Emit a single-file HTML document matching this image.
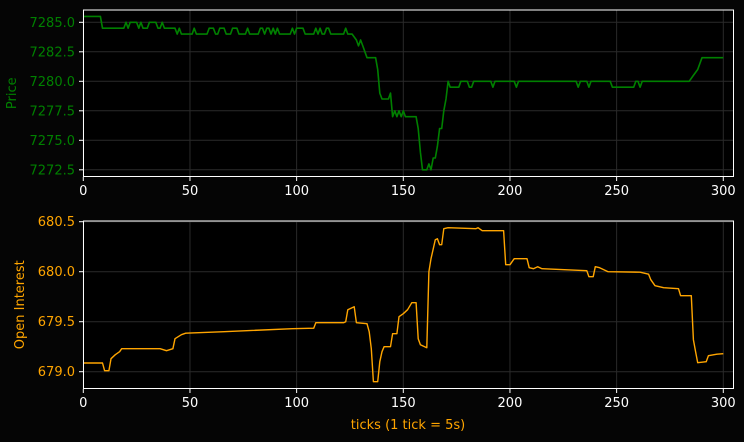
<!DOCTYPE html>
<html><head><meta charset="utf-8"><style>
html,body{margin:0;padding:0;background:#050505;}
svg{display:block;font-family:"DejaVu Sans","Liberation Sans",sans-serif;}
</style></head><body>
<svg id="chart" width="744" height="442" viewBox="0 0 744 442">
<rect x="0" y="0" width="744" height="442" fill="#050505"/>
<g id="top"></g>
<g id="bot"></g>
</svg>
<script>
const xTicks = [0,50,100,150,200,250,300];
const priceTicks = [7272.5,7275.0,7277.5,7280.0,7282.5,7285.0];
const oiTicks = [679.0,679.5,680.0,680.5];
const priceT = [
 0,8,9,19,20,21,22,25,26,27,28,30,31,34,35,36,37,38,43,44,45,46,
 51,52,53,
 58,59,61,62,
 63,64,66,67,
 69,70,72,73,
 76,77,78,
 82,83,84,85,
 86,87,88,89,90,91,92,
 97,98,99,100,103,104,
 108,109,110,111,112,
 113,114,115,116,
 122,123,124,
 126,128,129,130,131,133,137,138,139,140,143,144,145,
 146,147,148,149,150,151,152,156,157,158,159,161,162,163,164,165,166,167,168,169,170,171,172,176,177,180,181,182,183,191,192,193,
 202,203,204,231,232,233,236,237,238,247,248,258,259,260,261,262,284,286,288,290,300];
const priceV = [
 7285.5,7285.5,7284.5,7284.5,7285,7284.5,7285,7285,7284.5,7285,7284.5,7284.5,7285,7285,7284.5,7284.5,7285,7284.5,7284.5,7284,7284.5,7284,
 7284,7284.5,7284,
 7284,7284.5,7284.5,7284,
 7284,7284.5,7284.5,7284,
 7284,7284.5,7284.5,7284,
 7284,7284.5,7284,
 7284,7284.5,7284.5,7284,
 7284.5,7284.5,7284,7284.5,7284,7284.5,7284,
 7284,7284.5,7284,7284.5,7284.5,7284,
 7284,7284.5,7284,7284.5,7284,
 7284,7284.5,7284.5,7284,
 7284,7284.5,7284,
 7284,7283.5,7283,7283.5,7283,7282,7282,7281,7279,7278.5,7278.5,7279,7277,
 7277.5,7277,7277.5,7277,7277.5,7277,7277,7277,7276,7274,7272.5,7272.5,7273,7272.5,7273.5,7273.5,7274.5,7276,7276,7277.5,7278.5,7280,7279.5,7279.5,7280,7280,7279.5,7279.5,7280,7280,7279.5,7280,
 7280,7279.5,7280,7280,7279.5,7280,7280,7279.5,7280,7280,7279.5,7279.5,7280,7280,7279.5,7280,7280,7280.5,7281,7282,7282];
const oiT = [0,9,10,12,13,15,17,18,36,39,42,43,46,48,66,98,108,109,122,123,124,127,128,133,134,135,136,138,139,140,141,144,145,147,148,150,152,
 154,156,157,158,161,162,163,165,166,167,168,169,171,184,185,187,197,198,200,202,208,209,211,213,215,236,237,239,240,242,246,261,265,266,268,272,279,280,285,286,287,288,292,293,297,300];
const oiV = [679.087,679.087,679.01,679.01,679.13,679.17,679.2,679.23,679.23,679.21,679.23,679.33,679.37,679.385,679.4,679.43,679.435,679.49,679.49,679.5,679.62,679.65,679.49,679.48,679.4,679.23,678.9,678.9,679.1,679.2,679.25,679.25,679.38,679.38,679.55,679.58,679.62,
 679.69,679.69,679.33,679.27,679.24,680.0,680.13,680.32,680.33,680.27,680.27,680.43,680.44,680.43,680.44,680.41,680.41,680.07,680.07,680.13,680.13,680.04,680.03,680.05,680.03,680.01,679.95,679.95,680.05,680.04,680.0,679.995,679.975,679.92,679.86,679.84,679.83,679.76,679.76,679.32,679.2,679.09,679.1,679.16,679.175,679.18];

const NS='http://www.w3.org/2000/svg';
const L=83, R=734, X0=83.3, XS=2.1333;
const sx = t => X0 + t*XS;
const pyT = v => 22.3 + (7285 - v)*11.8;
const oyB = v => 271.7 + (680 - v)*100;
function mk(parent, tag, attrs, txt){
  const e=document.createElementNS(NS,tag);
  for(const k in attrs) e.setAttribute(k,attrs[k]);
  if(txt!==undefined) e.textContent=txt;
  parent.appendChild(e); return e;
}
function panel(g, top, bot, yTicks, yf, yfmt, color, ts, vs, ylabel, ylx, name){
  mk(g,'rect',{x:L,y:top,width:R-L,height:bot-top,fill:'#000'});
  for(const t of xTicks){
    const l=mk(g,'line',{x1:sx(t),x2:sx(t),y1:top,y2:bot,stroke:'#2a2a2a','stroke-width':1});
    
    
  }
  for(const v of yTicks){
    const l=mk(g,'line',{x1:L,x2:R,y1:yf(v),y2:yf(v),stroke:'#2a2a2a','stroke-width':1});
    
    
    mk(g,'line',{x1:L-4,x2:L,y1:yf(v),y2:yf(v),stroke:'#fff','stroke-width':1});
    const tx=mk(g,'text',{x:L-8,y:yf(v)+4.5,'text-anchor':'end','font-size':13,fill:color},yfmt(v));
    
    
  }
  for(const t of xTicks){
    mk(g,'line',{x1:sx(t),x2:sx(t),y1:bot,y2:bot+4,stroke:'#fff','stroke-width':1});
    const tx=mk(g,'text',{x:sx(t),y:bot+18,'text-anchor':'middle','font-size':13,fill:'#fff'},String(t));
    
    
  }
  const pts=ts.map((t,i)=>sx(t).toFixed(1)+','+yf(vs[i]).toFixed(1)).join(' ');
  const pl=mk(g,'polyline',{points:pts,fill:'none',stroke:color,'stroke-width':name==='price-line'?1.6:1.4,'stroke-linejoin':'round'});
  
  
  const fr=mk(g,'rect',{x:L+0.5,y:top+0.5,width:R-L-1,height:bot-top-1,fill:'none',stroke:'#fff','stroke-width':1});
  
  
  const yl=mk(g,'text',{x:ylx,y:(top+bot)/2,'text-anchor':'middle','font-size':13,fill:color,transform:`rotate(-90 ${ylx} ${(top+bot)/2})`},ylabel);
  
  
}
panel(document.getElementById('top'),9.5,177,priceTicks,pyT,v=>v.toFixed(1),'#008000',priceT,priceV,'Price',16,'price-line');
panel(document.getElementById('bot'),220.5,389,oiTicks,oyB,v=>v.toFixed(1),'#ffa500',oiT,oiV,'Open Interest',24,'open-interest-line');
const xl=mk(document.getElementById('bot'),'text',{x:408,y:429,'text-anchor':'middle','font-size':13,fill:'#ffa500'},'ticks (1 tick = 5s)');


</script>
</body></html>
